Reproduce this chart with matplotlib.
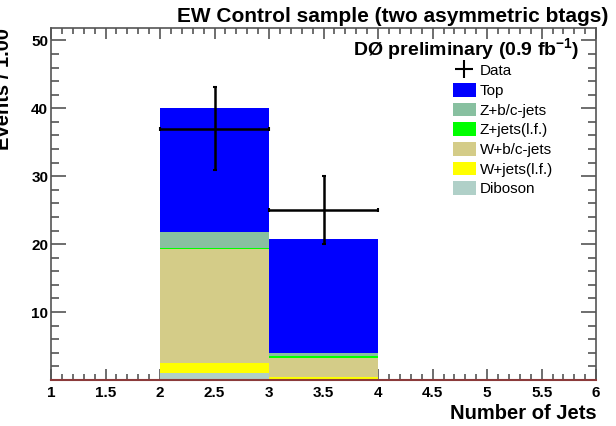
import matplotlib.pyplot as plt
import numpy as np
from matplotlib.patches import Patch
from matplotlib.lines import Line2D
from matplotlib.ticker import MultipleLocator

plt.rcParams['font.family'] = ['Liberation Sans', 'DejaVu Sans']

# jet multiplicity bins (left edges, width 1)
bin_edges = np.array([2, 3])

# stacked backgrounds, bottom to top
samples = ["Diboson", "W+jets(l.f.)", "W+b/c-jets", "Z+jets(l.f.)", "Z+b/c-jets", "Top"]
diboson = np.array([1.1, 0.2])
wjets_lf = np.array([1.4, 0.3])
wbc_jets = np.array([16.8, 2.8])
zjets_lf = np.array([0.1, 0.2])
zbc_jets = np.array([2.4, 0.4])
top = np.array([18.2, 16.9])
stack = [diboson, wjets_lf, wbc_jets, zjets_lf, zbc_jets, top]
colors = ["#b0d0c8", "#ffff00", "#d4cc88", "#00ff00", "#88c0a0", "#0000ff"]

# observed data
data_x = np.array([2.5, 3.5])
data_y = np.array([37, 25])
data_err = np.sqrt(data_y)

fig = plt.figure(figsize=(6.16, 4.26), dpi=100)
ax = fig.add_axes([0.0828, 0.108, 0.885, 0.826])

bottom = np.zeros(len(bin_edges))
for vals, c in zip(stack, colors):
    ax.bar(bin_edges, vals, width=1.0, bottom=bottom, align='edge', color=c,
           edgecolor='none', zorder=2)
    bottom = bottom + vals

ax.errorbar(data_x, data_y, xerr=0.5, yerr=data_err, fmt='none', ecolor='black',
            elinewidth=1.8, capsize=1.5, capthick=1.5, zorder=4)

ax.set_xlim(1, 6)
ax.set_ylim(0, 51.8)
ax.xaxis.set_major_locator(MultipleLocator(0.5))
ax.xaxis.set_minor_locator(MultipleLocator(0.1))
ax.yaxis.set_major_locator(MultipleLocator(10))
ax.yaxis.set_minor_locator(MultipleLocator(2))
ax.set_xticks([1, 1.5, 2, 2.5, 3, 3.5, 4, 4.5, 5, 5.5, 6])
ax.set_xticklabels(["1", "1.5", "2", "2.5", "3", "3.5", "4", "4.5", "5", "5.5", "6"])
ax.set_yticks([10, 20, 30, 40, 50])

ax.tick_params(which='both', direction='in', top=True, right=True, color='#555555',
               labelsize=11, width=1.2)
ax.xaxis.set_tick_params(which='major', length=8, pad=4)
ax.xaxis.set_tick_params(which='minor', length=4)
ax.yaxis.set_tick_params(which='major', length=11, pad=2)
ax.yaxis.set_tick_params(which='minor', length=5.5)
for lbl in ax.get_xticklabels() + ax.get_yticklabels():
    lbl.set_fontweight('bold')

for side in ['top', 'right', 'left']:
    ax.spines[side].set_color('#555555')
    ax.spines[side].set_linewidth(1.2)
ax.spines['bottom'].set_color('#8b3a3a')
ax.spines['bottom'].set_linewidth(1.5)

ax.set_xlabel("Number of Jets", fontsize=14.5, fontweight='bold', loc='right', labelpad=3)
fig.text(0.006, 0.934, "Events / 1.00", rotation=90, fontsize=14.5, fontweight='bold',
         ha='center', va='top')

fig.text(0.987, 0.962, "EW Control sample (two asymmetric btags)", fontsize=15,
         fontweight='bold', ha='right', va='center')
ax.text(0.97, 0.94, r"DØ preliminary (0.9 fb$^{\mathregular{-1}}$)", transform=ax.transAxes,
        fontsize=14, fontweight='bold', ha='right', va='center')

handles = [Line2D([], [], color='black', marker='+', markersize=13, linestyle='none',
                  markeredgewidth=1.5)]
labels = ["Data"]
for name, c in zip(samples[::-1], colors[::-1]):
    handles.append(Patch(facecolor=c, edgecolor='none'))
    labels.append(name)
ax.legend(handles, labels, loc='upper left', bbox_to_anchor=(0.737, 0.9), frameon=False,
          fontsize=11, handlelength=1.5, handleheight=1.0, handletextpad=0.25,
          labelspacing=0.3, borderaxespad=0, borderpad=0)

fig.savefig("out.png", dpi=100)
